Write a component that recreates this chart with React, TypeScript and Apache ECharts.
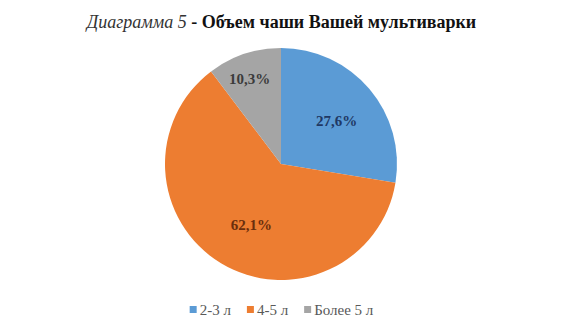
import React, { useEffect, useRef } from "react";
import * as echarts from "echarts";

const categories = ["2-3 л", "4-5 л", "Более 5 л"];
const values = [27.6, 62.1, 10.3];
const colors = ["#5B9BD5", "#ED7D31", "#A5A5A5"];
const labelColors = ["#1F3864", "#6B2E0C", "#3B3B3B"];
const labelShift = [
  [9, -4],
  [2, 9],
  [-12, -27],
];

const SERIF = "Liberation Serif";

export default function App() {
  const ref = useRef<HTMLDivElement>(null);
  useEffect(() => {
    if (!ref.current) return;
    const chart = echarts.init(ref.current, null, { renderer: "svg" });
    chart.setOption({
      animation: false,
      backgroundColor: "#ffffff",
      title: {
        text: "{i|Диаграмма 5} {b|- Объем чаши Вашей мультиварки}",
        left: "center",
        top: 8,
        textStyle: {
          fontFamily: SERIF,
          fontWeight: "normal",
          fontSize: 18,
          rich: {
            i: {
              fontFamily: SERIF,
              fontStyle: "italic",
              fontWeight: "normal",
              fontSize: 18,
              color: "#333",
            },
            b: {
              fontFamily: SERIF,
              fontStyle: "normal",
              fontWeight: 700,
              fontSize: 18,
              color: "#111",
            },
          },
        },
      },
      legend: {
        bottom: 8,
        left: "center",
        itemWidth: 7,
        itemHeight: 7,
        itemGap: 16,
        icon: "rect",
        textStyle: {
          fontFamily: SERIF,
          fontWeight: "normal",
          fontSize: 15,
          color: "#595959",
          padding: [0, 0, 0, -2],
        },
        data: categories,
      },
      series: [
        {
          type: "pie",
          center: [281, 164],
          radius: 116,
          startAngle: 90,
          clockwise: true,
          label: {
            position: "inside",
            formatter: (p: any) => p.value.toFixed(1).replace(".", ",") + "%",
            fontFamily: SERIF,
            fontStyle: "normal",
            fontWeight: 700,
            fontSize: 15,
          },
          labelLine: { show: false },
          labelLayout: (p: any) => ({
            dx: labelShift[p.dataIndex][0],
            dy: labelShift[p.dataIndex][1],
          }),
          itemStyle: { borderColor: "#ffffff", borderWidth: 0 },
          data: categories.map((c, i) => ({
            name: c,
            value: values[i],
            itemStyle: { color: colors[i] },
            label: { color: labelColors[i] },
          })),
        },
      ],
    });
    return () => chart.dispose();
  }, []);
  return (
    <div
      ref={ref}
      style={{ position: "fixed", left: 0, top: 0, width: 563, height: 330 }}
    />
  );
}
